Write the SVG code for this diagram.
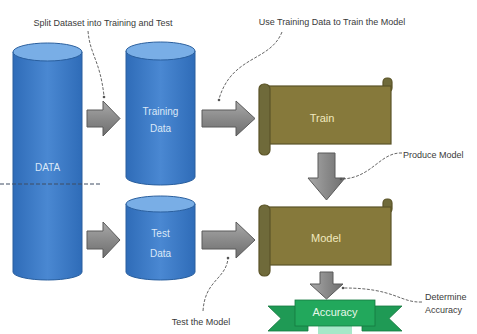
<svg xmlns="http://www.w3.org/2000/svg" width="477" height="334" viewBox="0 0 477 334">
<defs>
<linearGradient id="cyl" x1="0" y1="0" x2="1" y2="0">
<stop offset="0" stop-color="#2f6cb8"/>
<stop offset="0.5" stop-color="#4a88d2"/>
<stop offset="1" stop-color="#2f6cb8"/>
</linearGradient>
<linearGradient id="arr" x1="0" y1="0" x2="0" y2="1">
<stop offset="0" stop-color="#a9a9a9"/>
<stop offset="0.5" stop-color="#8a8a8a"/>
<stop offset="1" stop-color="#6e6e6e"/>
</linearGradient>
<linearGradient id="arrv" x1="0" y1="0" x2="1" y2="0">
<stop offset="0" stop-color="#a9a9a9"/>
<stop offset="0.5" stop-color="#8a8a8a"/>
<stop offset="1" stop-color="#6e6e6e"/>
</linearGradient>
<style>
.cylb{fill:url(#cyl);stroke:#2a5f9e;stroke-width:1}
.cylt{fill:#79aee6;stroke:#2a5f9e;stroke-width:1}
.ntx{font-family:"Liberation Sans",Arial,sans-serif;font-size:10px;fill:#dbe8f7;text-anchor:middle}
.lbl{font-family:"Liberation Sans",Arial,sans-serif;font-size:9px;fill:#3a3a3a;text-anchor:middle}
.arr{fill:url(#arr);stroke:#5a5a5a;stroke-width:1}
.arrv{fill:url(#arrv);stroke:#5a5a5a;stroke-width:1}
.scb{fill:#86793b;stroke:#5b5428;stroke-width:1.2}
.scr{fill:#6f6a3a;stroke:#5b5428;stroke-width:1.2}
.stx{font-family:"Liberation Sans",Arial,sans-serif;font-size:11px;fill:#f1e9bf;text-anchor:middle}
.call{fill:none;stroke:#555;stroke-width:0.9;stroke-dasharray:3 1.5}
</style>
</defs>

<g id="data">
<path class="cylb" d="M13,52 V272 A34.5,8 0 0 0 82,272 V52 Z"/>
<ellipse class="cylt" cx="47.5" cy="52" rx="34.5" ry="9"/>
<text class="ntx" x="47.5" y="171">DATA</text>
</g>

<line x1="0" y1="184" x2="100" y2="184" stroke="#3f4d62" stroke-width="1" stroke-dasharray="4 2"/>

<g id="training-data">
<path class="cylb" d="M126,51 V177 A34.5,8 0 0 0 195,177 V51 Z"/>
<ellipse class="cylt" cx="160.5" cy="51" rx="34.5" ry="9"/>
<text class="ntx" x="160.5" y="115">Training</text>
<text class="ntx" x="160.5" y="132">Data</text>
</g>

<g id="test-data">
<path class="cylb" d="M126,204 V272 A34.5,8 0 0 0 195,272 V204 Z"/>
<ellipse class="cylt" cx="160.5" cy="204" rx="34.5" ry="8"/>
<text class="ntx" x="160.5" y="237">Test</text>
<text class="ntx" x="160.5" y="257">Data</text>
</g>

<g id="train">
<rect class="scr" x="383" y="78" width="9" height="14" rx="4"/>
<rect class="scb" x="264" y="86" width="127" height="58"/>
<rect class="scr" x="259" y="84" width="11" height="71" rx="5"/>
<text class="stx" x="322" y="122">Train</text>
</g>

<g id="model">
<rect class="scr" x="383" y="199" width="9" height="14" rx="4"/>
<rect class="scb" x="264" y="207" width="127" height="58"/>
<rect class="scr" x="259" y="205" width="11" height="71" rx="5"/>
<text class="stx" x="326" y="242">Model</text>
</g>

<g id="accuracy">
<polygon points="268,306 308,306 308,331 268,331 281,318.5" fill="#1f9a55" stroke="#15783f" stroke-width="0.8"/>
<polygon points="402,306 362,306 362,331 402,331 389,318.5" fill="#1f9a55" stroke="#15783f" stroke-width="0.8"/>
<rect x="318" y="325" width="34" height="9" fill="#a6e8c8"/>
<rect x="295" y="300" width="80" height="26" fill="#22a85c" stroke="#15783f" stroke-width="0.8"/>
<text class="stx" x="335" y="316" style="fill:#e6f7ea">Accuracy</text>
</g>

<g id="connectors">
<polygon class="arr" points="87,110 103,110 103,101 120,118.5 103,136 103,127 87,127"/>
<polygon class="arr" points="87,231 103,231 103,222 120,240 103,258 103,249 87,249"/>
<polygon class="arr" points="202,110 236,110 236,101 255,118.5 236,136 236,127 202,127"/>
<polygon class="arr" points="202,231 236,231 236,222 255,240 236,258 236,249 202,249"/>
<polygon class="arrv" points="318,153 335,153 335,178 345,178 326.5,200 308,178 318,178"/>
<polygon class="arrv" points="320,272 333,272 333,284 343,284 326.5,299 310,284 320,284"/>
<path class="call" d="M88,31 C90,55 100,60 104,96"/>
<circle cx="104" cy="97" r="1.3" fill="#555"/>
<path class="call" d="M282,32 C270,62 232,55 219,99"/>
<circle cx="219" cy="100" r="1.3" fill="#555"/>
<path class="call" d="M402,153 C380,152 372,178 342,179"/>
<circle cx="341" cy="179" r="1.3" fill="#555"/>
<path class="call" d="M422,302 C400,303 395,288 344,288"/>
<circle cx="343" cy="288" r="1.3" fill="#555"/>
<path class="call" d="M203,311 C205,280 225,280 228,259"/>
<circle cx="228" cy="258" r="1.3" fill="#555"/>
</g>

<g id="labels">
<text class="lbl" x="103" y="26">Split Dataset into Training and Test</text>
<text class="lbl" x="332" y="25">Use Training Data to Train the Model</text>
<text class="lbl" x="403" y="158" style="text-anchor:start">Produce Model</text>
<text class="lbl" x="425" y="300" style="text-anchor:start">Determine</text>
<text class="lbl" x="425" y="313" style="text-anchor:start">Accuracy</text>
<text class="lbl" x="201" y="325">Test the Model</text>
</g>
</svg>
